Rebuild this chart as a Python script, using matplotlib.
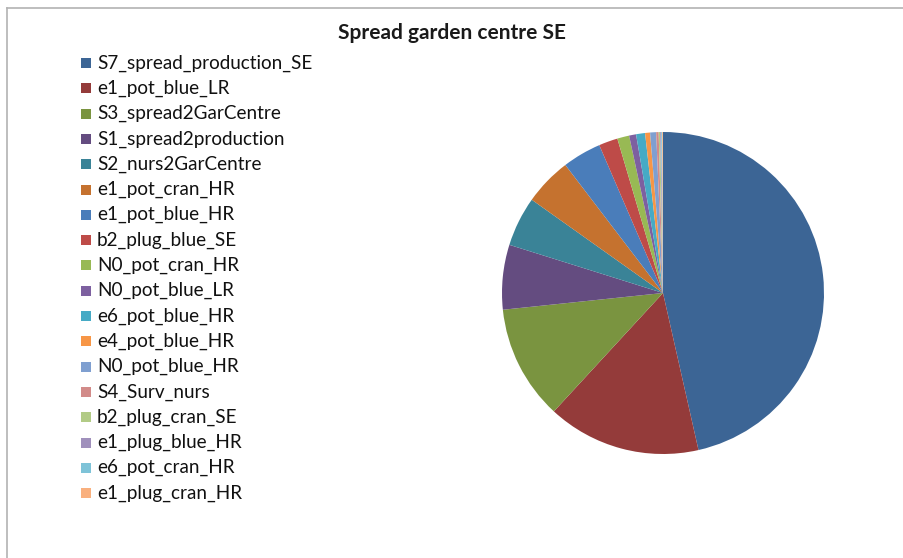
import matplotlib.pyplot as plt
from matplotlib.patches import Rectangle
from matplotlib.lines import Line2D

plt.rcParams['font.family'] = ['Lato', 'DejaVu Sans']

# slice labels, in legend order (clockwise from 12 o'clock)
labels = ['S7_spread_production_SE', 'e1_pot_blue_LR', 'S3_spread2GarCentre',
          'S1_spread2production', 'S2_nurs2GarCentre', 'e1_pot_cran_HR',
          'e1_pot_blue_HR', 'b2_plug_blue_SE', 'N0_pot_cran_HR', 'N0_pot_blue_LR',
          'e6_pot_blue_HR', 'e4_pot_blue_HR', 'N0_pot_blue_HR', 'S4_Surv_nurs',
          'b2_plug_cran_SE', 'e1_plug_blue_HR', 'e6_pot_cran_HR', 'e1_plug_cran_HR']
# share of total (%)
shares = [46.5, 15.4, 11.5, 6.5, 5.0, 4.8, 3.9, 1.9, 1.2, 0.7,
          0.9, 0.5, 0.6, 0.25, 0.15, 0.1, 0.1, 0.08]
colors = ['#3C6595', '#943B3A', '#7A9440', '#644C80', '#3A8397', '#C5722F',
          '#4A7DBA', '#BE4B48', '#98B954', '#7D60A0', '#46AAC5', '#F79646',
          '#7F9FD0', '#D28B89', '#B2CB86', '#A090BC', '#7EC3D8', '#F9B07E']

W, H = 904, 558
fig = plt.figure(figsize=(W / 100, H / 100), dpi=100)

# chart area border (top and left edges visible)
fig.add_artist(Line2D([7 / W, 1], [1 - 8 / H, 1 - 8 / H], color='#B3B3B3', lw=1.2))
fig.add_artist(Line2D([7 / W, 7 / W], [0, 1 - 8 / H], color='#B3B3B3', lw=1.2))

# pie: centre (663, 293) px, radius 161 px
cx, cy, r = 663, 293, 161
ax = fig.add_axes([(cx - r) / W, (H - cy - r) / H, 2 * r / W, 2 * r / H])
wedges, _ = ax.pie(shares, colors=colors, startangle=90, counterclock=False,
                   radius=1.0, wedgeprops=dict(linewidth=0))
ax.set_xlim(-1, 1)
ax.set_ylim(-1, 1)
ax.set_aspect('equal')

fig.text(452 / W, 1 - 33 / H, 'Spread garden centre SE', ha='center', va='center',
         fontsize=15, fontweight='bold', color='#1A1A1A')

# legend drawn by hand
y0, step = 63, 25.3
for i, (lab, w) in enumerate(zip(labels, wedges)):
    y = y0 + i * step
    fig.add_artist(Rectangle((81 / W, 1 - (y + 5) / H), 10 / W, 10 / H,
                             facecolor=w.get_facecolor(), edgecolor='none'))
    fig.text(97 / W, 1 - y / H, lab, ha='left', va='center', fontsize=13.6,
             color='#111111')

fig.savefig('out.png', dpi=100)
